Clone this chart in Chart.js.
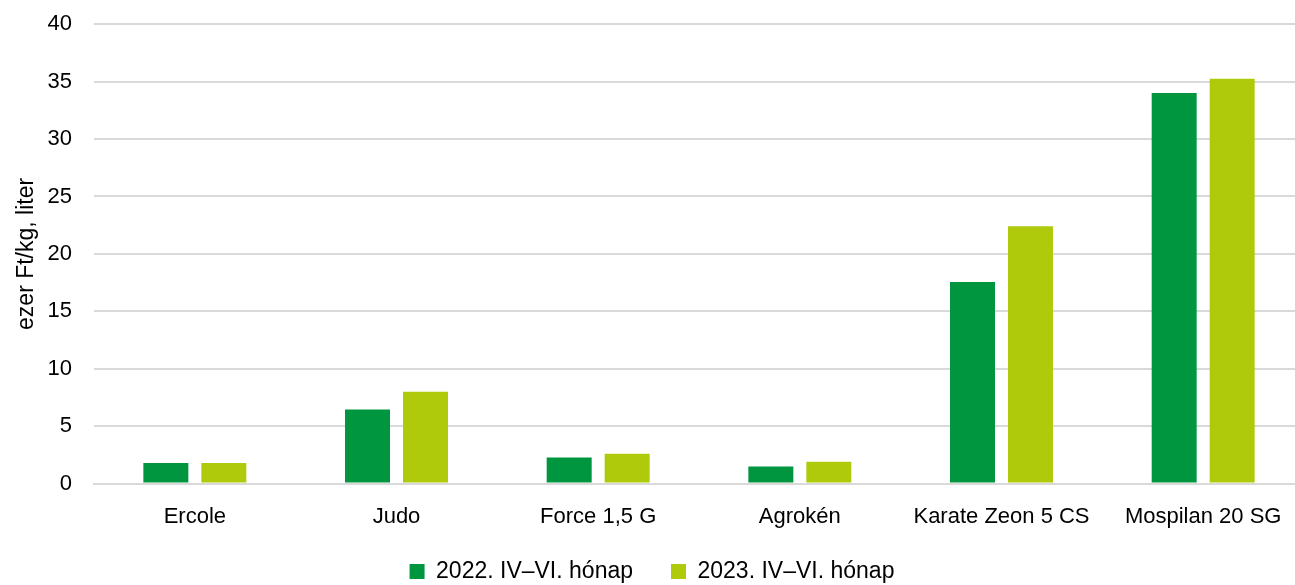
<!DOCTYPE html>
<html>
<head>
<meta charset="utf-8">
<script src="https://cdn.jsdelivr.net/npm/chart.js@4"></script>
<style>
  html, body { margin: 0; padding: 0; background: #fff; overflow: hidden; }
  #wrap { width: 1304px; height: 585px; }
</style>
</head>
<body>
<div id="wrap"><canvas id="chart"></canvas></div>
<script>
const categories = ["Ercole", "Judo", "Force 1,5 G", "Agrokén", "Karate Zeon 5 CS", "Mospilan 20 SG"];
const seriesNames = ["2022. IV\u2013VI. hónap", "2023. IV\u2013VI. hónap"];
const values2022 = [1.8, 6.45, 2.27, 1.48, 17.55, 34.0];
const values2023 = [1.8, 8.0, 2.6, 1.9, 22.4, 35.25];
const yTicks = [0, 5, 10, 15, 20, 25, 30, 35, 40];

const font = "'Liberation Sans', Arial, sans-serif";

// legend sits closer to the axis labels than chart.js padding allows
const legendShift = {
    id: "legendShift",
    beforeLayout(chart) {
        const lg = chart.legend;
        if (lg && !lg._patched) {
            const fit = lg.fit;
            lg.fit = function () { fit.call(this); this.height -= 28; };
            lg._patched = true;
        }
    },
    afterLayout(chart) {
        chart.legend.top -= 20;
        chart.legend.bottom += 40;
    }
};

new Chart(document.getElementById("chart"), {
    type: "bar",
    data: {
        labels: categories,
        datasets: [
            { label: seriesNames[0], data: values2022, backgroundColor: "#00953f", borderWidth: 0 },
            { label: seriesNames[1], data: values2023, backgroundColor: "#afca0b", borderWidth: 0 }
        ]
    },
    options: {
        responsive: true,
        maintainAspectRatio: false,
        animation: false,
        categoryPercentage: 0.575,
        barPercentage: 0.776,
        layout: { padding: 0 },
        plugins: {
            tooltip: { enabled: false },
            legend: {
                position: "bottom",
                labels: {
                    font: { family: font, size: 23 },
                    color: "#000",
                    boxWidth: 15,
                    boxHeight: 15,
                    padding: 38
                }
            }
        },
        scales: {
            x: {
                grid: { display: false },
                border: { color: "#d9d9d9", width: 2 },
                ticks: { font: { family: font, size: 22 }, color: "#000", padding: 12 }
            },
            y: {
                min: 0,
                max: 40,
                afterBuildTicks: axis => { axis.ticks = yTicks.map(v => ({ value: v })); },
                afterFit: axis => { axis.width = 94; },
                grid: { color: "#d9d9d9", lineWidth: 2, drawTicks: true, tickLength: 11, tickColor: "rgba(0,0,0,0)" },
                border: { display: false },
                ticks: { font: { family: font, size: 22 }, color: "#000", padding: 11 },
                title: {
                    display: true,
                    text: "ezer Ft/kg, liter",
                    font: { family: font, size: 23 },
                    color: "#000",
                    padding: { top: 13, bottom: 6 }
                }
            }
        }
    },
    plugins: [legendShift]
});
</script>
</body>
</html>
